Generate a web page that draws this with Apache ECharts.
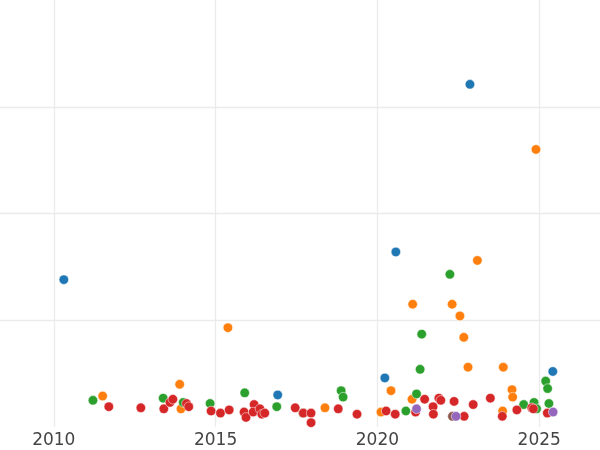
<!DOCTYPE html>
<html>
<head>
<meta charset="utf-8">
<script src="https://cdn.jsdelivr.net/npm/echarts@6/dist/echarts.min.js"></script>
<style>html,body{margin:0;padding:0;background:#fff}#c{width:600px;height:450px}</style>
</head>
<body>
<div id="c"></div>
<script>
const blueX = [2010.31, 2022.86, 2020.57, 2020.23, 2016.92, 2025.42];
const blueY = [1.38, 3.21, 1.64, 0.46, 0.30, 0.52];

const orangeX = [2011.51, 2013.89, 2013.93, 2015.38, 2018.38, 2020.11, 2020.42, 2021.07, 2021.09, 2022.31, 2022.55, 2022.67, 2023.09, 2022.80, 2023.89, 2024.90, 2024.16, 2024.18, 2023.87];
const orangeY = [0.29, 0.40, 0.17, 0.93, 0.18, 0.14, 0.34, 0.26, 1.15, 1.15, 1.04, 0.84, 1.56, 0.56, 0.56, 2.60, 0.35, 0.28, 0.15];

const greenX = [2011.21, 2013.38, 2014.00, 2014.83, 2015.90, 2016.89, 2017.70, 2018.88, 2018.94, 2020.88, 2021.21, 2021.32, 2021.37, 2022.24, 2024.52, 2024.84, 2024.92, 2025.20, 2025.26, 2025.30];
const greenY = [0.25, 0.27, 0.23, 0.22, 0.32, 0.19, 0.13, 0.34, 0.28, 0.15, 0.31, 0.54, 0.87, 1.43, 0.21, 0.23, 0.17, 0.43, 0.36, 0.22];

const redX = [2011.70, 2012.69, 2013.40, 2013.59, 2013.68, 2014.10, 2014.17, 2014.86, 2015.15, 2015.42, 2015.88, 2015.94, 2016.19, 2016.16, 2016.37, 2016.43, 2016.52, 2017.46, 2017.71, 2017.95, 2017.95, 2018.79, 2019.37, 2020.27, 2020.55, 2021.18, 2021.46, 2021.72, 2021.73, 2021.90, 2021.96, 2022.37, 2022.68, 2022.96, 2023.49, 2023.86, 2024.31, 2024.77, 2024.82, 2025.25];
const redY = [0.19, 0.18, 0.17, 0.23, 0.26, 0.22, 0.19, 0.15, 0.13, 0.16, 0.14, 0.09, 0.21, 0.14, 0.17, 0.12, 0.13, 0.18, 0.13, 0.13, 0.04, 0.17, 0.12, 0.15, 0.12, 0.14, 0.26, 0.19, 0.12, 0.27, 0.25, 0.24, 0.10, 0.21, 0.27, 0.10, 0.16, 0.18, 0.17, 0.13];

const purpleX = [2021.21, 2022.43, 2025.43];
const purpleY = [0.17, 0.10, 0.14];

const brownX = [2022.32];
const brownY = [0.10];

const groups = [
  {x: blueX, y: blueY, color: '#1f77b4'},
  {x: orangeX, y: orangeY, color: '#ff7f0e'},
  {x: greenX, y: greenY, color: '#2ca02c'},
  {x: redX, y: redY, color: '#d62728'},
  {x: brownX, y: brownY, color: '#8c564b'},
  {x: purpleX, y: purpleY, color: '#9467bd'}
];

const chart = echarts.init(document.getElementById('c'), null, {renderer: 'canvas'});
chart.setOption({
  animation: false,
  grid: {left: -108, right: -101, top: 0, bottom: 23, containLabel: false, outerBoundsMode: 'none'},
  xAxis: {
    type: 'value', min: 2005, max: 2030, interval: 5,
    axisLine: {show: false}, axisTick: {show: false},
    axisLabel: {color: '#444', fontSize: 17, fontFamily: 'DejaVu Sans', margin: 5, formatter: v => String(v)},
    splitLine: {show: true, lineStyle: {color: '#ebebeb', width: 1.3}}
  },
  yAxis: {
    type: 'value', min: 0, max: 4, interval: 1,
    axisLine: {show: false}, axisTick: {show: false}, axisLabel: {show: false},
    splitLine: {show: true, showMinLine: false, showMaxLine: false, lineStyle: {color: '#ebebeb', width: 1.3}}
  },
  series: groups.map(g => ({
    type: 'scatter',
    symbolSize: 9.5,
    itemStyle: {color: g.color, opacity: 1, borderColor: '#ffffff', borderWidth: 0.5},
    data: g.x.map((v, i) => [v, g.y[i]])
  }))
});
</script>
</body>
</html>
